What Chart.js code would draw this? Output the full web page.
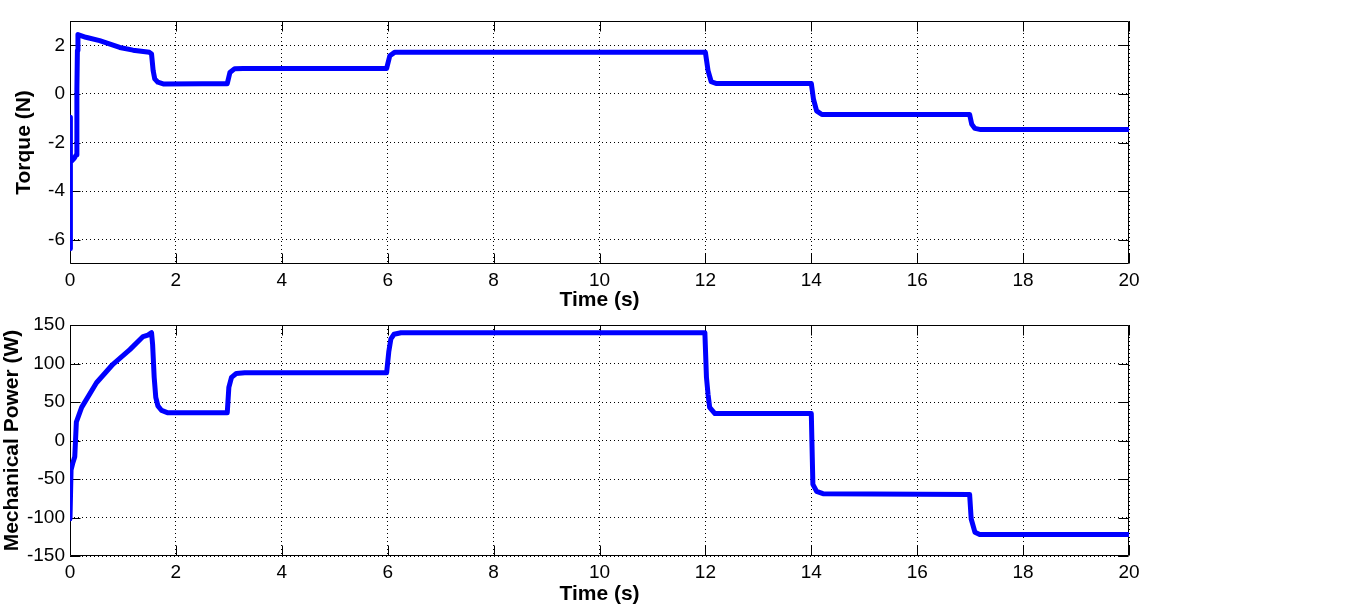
<!DOCTYPE html>
<html><head><meta charset="utf-8">
<script src="https://cdn.jsdelivr.net/npm/chart.js@4/dist/chart.umd.min.js"></script>
<style>
html,body{margin:0;padding:0;background:#fff;}
#wrap{position:relative;width:1367px;height:608px;overflow:hidden;}
.c{position:absolute;left:0;top:0;width:1367px;height:608px;}
</style></head><body>
<div id="wrap">
<div class="c"><canvas id="c1"></canvas></div>
<div class="c"><canvas id="c2"></canvas></div>
</div>
<script>
// ---- data ----
const torqueTime   = [0, 0.005, 0.01, 0.04, 0.08, 0.12, 0.13, 0.14, 0.15, 0.3, 0.56, 0.94, 1.19, 1.5, 1.54, 1.57, 1.6, 1.66, 1.76, 2.5, 2.97, 3.02, 3.11, 3.27, 5.98, 6.04, 6.13, 6.3, 12.0, 12.05, 12.11, 12.2, 14.0, 14.04, 14.1, 14.2, 16.99, 17.03, 17.09, 17.2, 20];
const torqueValues = [-0.96, -6.37, -2.8, -2.74, -2.65, -2.5, 0.2, 1.8, 2.44, 2.33, 2.19, 1.91, 1.8, 1.71, 1.64, 0.96, 0.62, 0.48, 0.41, 0.42, 0.42, 0.88, 1.04, 1.05, 1.05, 1.57, 1.71, 1.71, 1.71, 0.96, 0.5, 0.43, 0.43, -0.2, -0.7, -0.85, -0.85, -1.25, -1.42, -1.47, -1.47];

const powerTime    = [0, 0.005, 0.02, 0.05, 0.09, 0.12, 0.22, 0.5, 0.81, 1.13, 1.38, 1.47, 1.54, 1.56, 1.59, 1.62, 1.66, 1.73, 1.85, 2.97, 3.0, 3.05, 3.14, 3.3, 5.98, 6.02, 6.06, 6.12, 6.25, 11.99, 12.02, 12.05, 12.08, 12.18, 14.0, 14.03, 14.1, 14.22, 16.99, 17.02, 17.09, 17.18, 20];
const powerValues  = [-102, -102, -38, -30, -21, 24, 43, 75, 99, 118, 135, 137, 140, 125, 82, 56, 45, 39, 36, 36, 69, 82, 87, 88, 88, 115, 132, 138, 140, 140, 82, 60, 43, 35, 35, -57, -66, -69, -70, -102, -119, -122, -122];

const timeTicks   = [0, 2, 4, 6, 8, 10, 12, 14, 16, 18, 20];
const torqueTicks = [-6, -4, -2, 0, 2];
const powerTicks  = [-150, -100, -50, 0, 50, 100, 150];

// ---- drawing helpers ----
const FONT = "'Liberation Sans', Arial, Helvetica, sans-serif";

const boxPlugin = {
  id: 'matlabBox',
  beforeDatasetsDraw(chart) {
    const {ctx, chartArea: a, scales} = chart;
    const L = Math.round(a.left) + 0.5, R = Math.round(a.right) - 0.5;
    const T = Math.round(a.top) + 0.5, B = Math.round(a.bottom) - 0.5;
    ctx.save();
    ctx.strokeStyle = '#000';
    ctx.lineWidth = 1;
    ctx.setLineDash([]);
    ctx.beginPath();
    ctx.rect(L, T, R - L, B - T);
    const tl = 10;
    scales.x.ticks.forEach(t => {
      const px = Math.round(scales.x.getPixelForValue(t.value)) + 0.5;
      ctx.moveTo(px, B); ctx.lineTo(px, B - tl);
      ctx.moveTo(px, T); ctx.lineTo(px, T + tl);
    });
    scales.y.ticks.forEach(t => {
      const py = Math.round(scales.y.getPixelForValue(t.value)) + 0.5;
      ctx.moveTo(L, py); ctx.lineTo(L + tl, py);
      ctx.moveTo(R, py); ctx.lineTo(R - tl, py);
    });
    ctx.stroke();
    ctx.restore();
  }
};

function buildChart(id, times, values, yMin, yMax, yTicks, yTitle, cfg) {
  const pts = times.map((t, i) => ({x: t, y: values[i]}));
  return new Chart(document.getElementById(id), {
    type: 'line',
    data: {datasets: [{data: pts, borderColor: '#0000ff', borderWidth: 5, pointRadius: 0, tension: 0, fill: false, borderJoinStyle: 'round', borderCapStyle: 'round'}]},
    options: {
      responsive: true, maintainAspectRatio: false, animation: false,
      layout: {padding: {left: 0, right: 238, top: cfg.top, bottom: cfg.bottom}},
      plugins: {legend: {display: false}, tooltip: {enabled: false}},
      scales: {
        x: {
          type: 'linear', min: 0, max: 20,
          afterBuildTicks: s => { s.ticks = timeTicks.map(v => ({value: v})); },
          afterFit: s => { s.height = cfg.xh; },
          grid: {color: '#000', lineWidth: 1, drawTicks: false},
          border: {display: false, dash: [1, 3]},
          ticks: {color: '#000', font: {family: FONT, size: 19}, padding: 5, maxRotation: 0, autoSkip: false},
          title: {display: true, text: 'Time (s)', color: '#000', font: {family: FONT, size: 21, weight: 'bold'}, padding: 0}
        },
        y: {
          type: 'linear', min: yMin, max: yMax,
          afterBuildTicks: s => { s.ticks = yTicks.map(v => ({value: v})); },
          afterFit: s => { s.width = 70; },
          grid: {color: '#000', lineWidth: 1, drawTicks: false},
          border: {display: false, dash: [1, 3]},
          ticks: {color: '#000', font: {family: FONT, size: 19}, padding: 5, autoSkip: false},
          title: {display: true, text: yTitle, color: '#000', font: {family: FONT, size: 21, weight: 'bold'}, padding: cfg.ytp}
        }
      }
    },
    plugins: [boxPlugin]
  });
}

buildChart('c1', torqueTime, torqueValues, -7, 3, torqueTicks, 'Torque (N)', {top: 21, bottom: 295, xh: 49, ytp: 12});
buildChart('c2', powerTime, powerValues, -150, 150, powerTicks, 'Mechanical Power (W)', {top: 325, bottom: 1, xh: 51, ytp: 0});
</script>
</body></html>
